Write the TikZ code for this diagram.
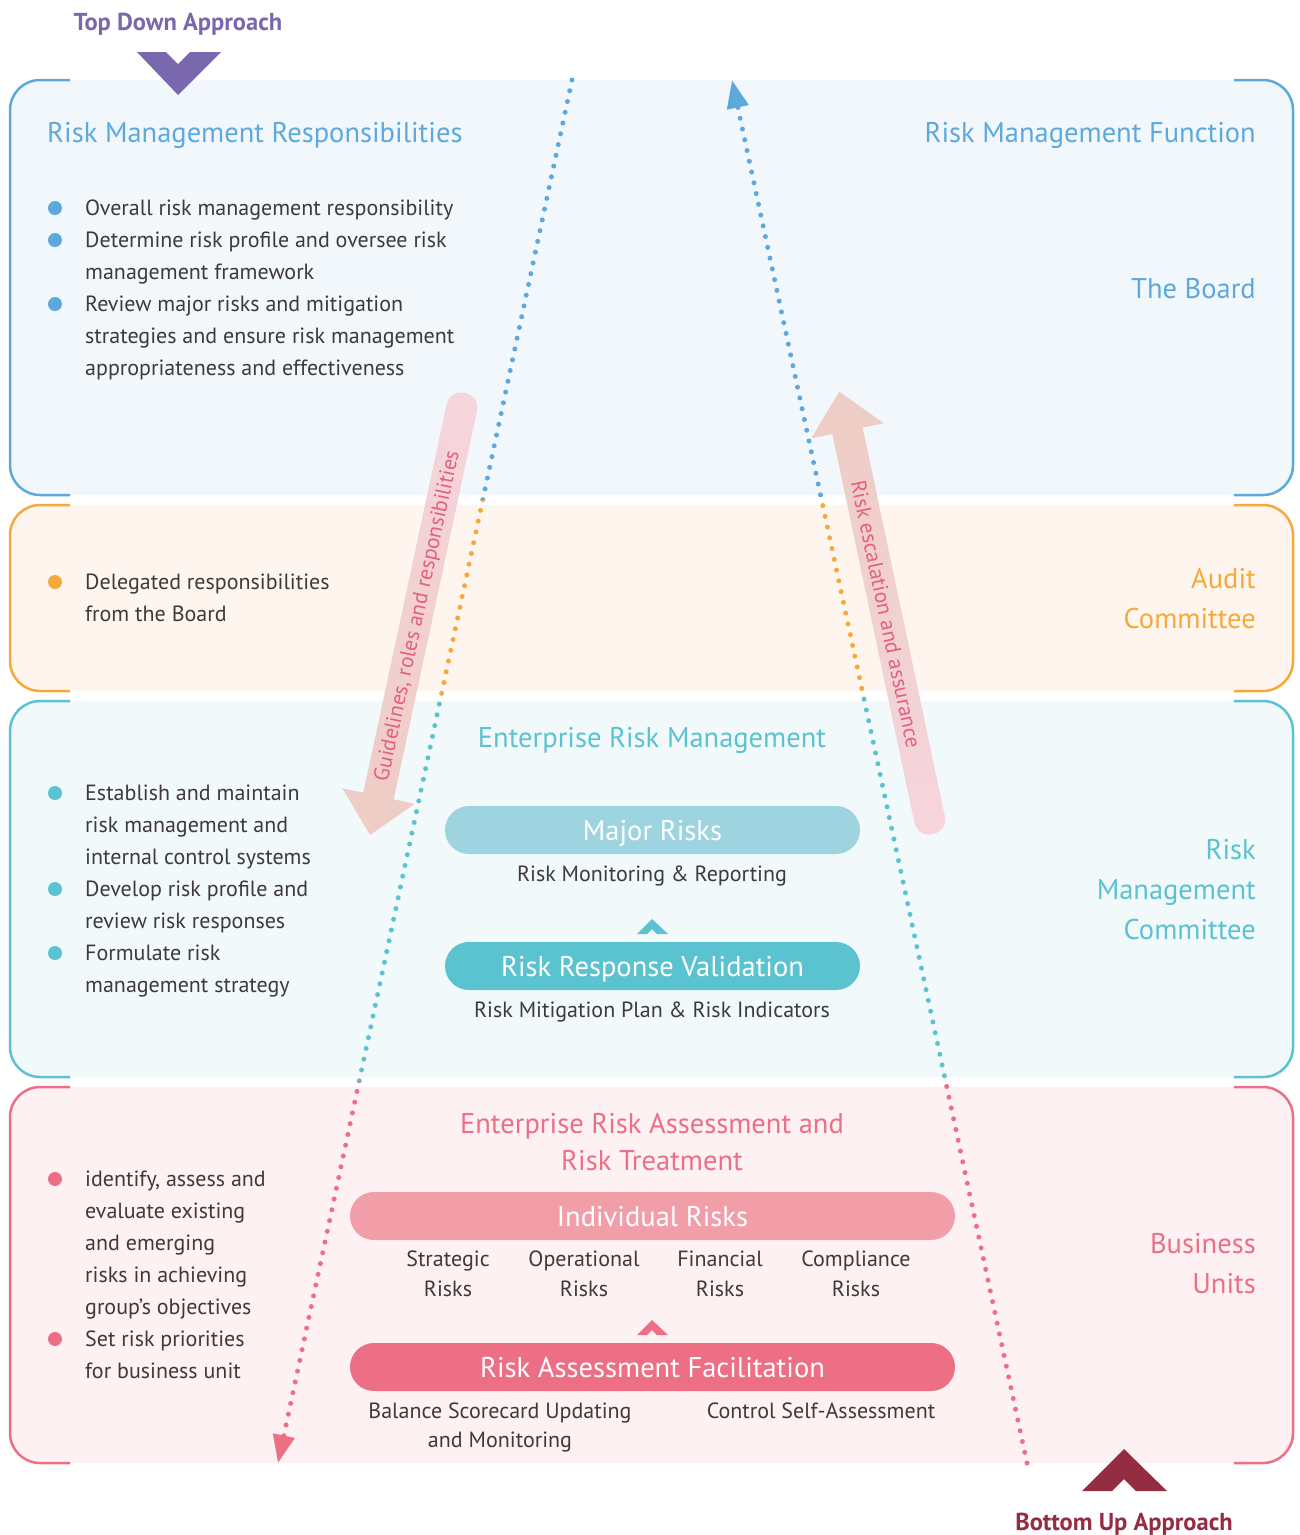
\documentclass[tikz,border=0pt]{standalone}
\usepackage{fontspec}
\setmainfont{PT Sans}
\usetikzlibrary{arrows.meta,shadings}
\definecolor{cblue}{HTML}{5DA9DD}
\definecolor{cpurple}{HTML}{7A68AE}
\definecolor{corange}{HTML}{F6A93B}
\definecolor{cteal}{HTML}{5BC2D0}
\definecolor{cpink}{HTML}{EC6F86}
\definecolor{cdred}{HTML}{952D42}
\definecolor{ctext}{HTML}{3E3A39}
\definecolor{fblue}{HTML}{F2F7FC}
\definecolor{forange}{HTML}{FEF6EE}
\definecolor{fteal}{HTML}{F2F9FB}
\definecolor{fpink}{HTML}{FDF1F3}
\definecolor{pillA}{HTML}{9DD4E0}
\definecolor{pillC}{HTML}{F29EA8}
\definecolor{atext}{HTML}{E4607C}
\definecolor{arpink}{HTML}{F5D4DC}
\definecolor{armid}{HTML}{F6F0F4}
\definecolor{arpeach}{HTML}{EECDC6}
\newcommand\rpanel[4]{%
  \fill[#3, rounded corners=30pt] (10,#1) rectangle (1293,#2);
  \draw[#4, line width=2.5pt, rounded corners=30pt] (70,#1) -| (10,#2) -- (70,#2);
  \draw[#4, line width=2.5pt, rounded corners=30pt] (1234,#1) -| (1293,#2) -- (1234,#2);
}
\begin{document}
\begin{tikzpicture}[x=1pt,y=-1pt,
  body/.style={font=\fontsize{22}{26}\selectfont, text=ctext, anchor=base west, inner sep=0pt},
  cbody/.style={font=\fontsize{22}{26}\selectfont, text=ctext, anchor=base, inner sep=0pt},
  ttl/.style={font=\fontsize{28.5}{33}\selectfont, inner sep=0pt},
  rttl/.style={ttl, anchor=base east},
  pill/.style={rounded corners=24pt, minimum width=415pt, minimum height=48pt, inner sep=0pt, text=white, font=\fontsize{28.5}{33}\selectfont, text height=20pt, text depth=0pt},
  bdot/.style={circle, minimum size=14pt, inner sep=0pt},
  dotline/.style={line width=5pt, dash pattern=on 0pt off 11pt, line cap=round, -{Triangle[length=28pt,width=21pt]}},
  apr/.style={font=\bfseries\fontsize{24.5}{28}\selectfont, inner sep=0pt, anchor=base},
  atxt/.style={font=\fontsize{21.5}{25}\selectfont, text=atext, inner sep=0pt}
]
\useasboundingbox (0,0) rectangle (1300,1535);

% panels
\rpanel{80}{495}{fblue}{cblue}
\rpanel{505}{691}{forange}{corange}
\rpanel{701}{1077}{fteal}{cteal}
\rpanel{1087}{1463}{fpink}{cpink}

% dotted connectors
\coordinate (tdA) at (572,80);
\coordinate (tdB) at (278,1463);
\coordinate (buA) at (1027,1463);
\coordinate (buB) at (732,80);
\begin{scope}
  \clip (0,0) rectangle (1300,500);
  \draw[dotline, cblue] (tdA) -- (tdB);
  \draw[dotline, cblue] (buA) -- (buB);
\end{scope}
\begin{scope}
  \clip (0,500) rectangle (1300,696);
  \draw[dotline, corange] (tdA) -- (tdB);
  \draw[dotline, corange] (buA) -- (buB);
\end{scope}
\begin{scope}
  \clip (0,696) rectangle (1300,1082);
  \draw[dotline, cteal] (tdA) -- (tdB);
  \draw[dotline, cteal] (buA) -- (buB);
\end{scope}
\begin{scope}
  \clip (0,1082) rectangle (1300,1535);
  \draw[dotline, cpink] (tdA) -- (tdB);
  \draw[dotline, cpink] (buA) -- (buB);
\end{scope}

% big arrows
\shade[shading=axis, top color=arpink, middle color=armid, bottom color=arpeach, shading angle=-12]
  (446.5,404.7) -- (363.3,792.7) -- (342.3,788.2) -- (370,835) -- (414.7,803.8) -- (393.7,799.3) -- (476.9,411.3)
  .. controls (481.3,391.1) and (450.9,384.5) .. (446.5,404.7) -- cycle;
\shade[shading=axis, top color=arpeach, middle color=armid, bottom color=arpink, shading angle=12]
  (944.7,815.8) -- (862.7,427.6) -- (883.7,423.2) -- (839.2,391.7) -- (811.3,438.4) -- (832.3,434.0) -- (914.3,822.2)
  .. controls (918.6,842.5) and (949.0,836.1) .. (944.7,815.8) -- cycle;
\node[atxt, rotate=77.8] (glr) at (418,616) {Guidelines, roles and responsibilities};
\node[atxt, rotate=-78.1] (rea) at (886,614) {Risk escalation and assurance};

% approach labels and chevrons
\node[apr, text=cpurple] (tda) at (178,30) {Top Down Approach};
\fill[cpurple] (137,52) -- (166,52) -- (178,64) -- (190,52) -- (221,52) -- (178,95) -- cycle;
\node[apr, text=cdred] (bua) at (1124,1530) {Bottom Up Approach};
\fill[cdred] (1082,1491) -- (1112,1491) -- (1124,1479) -- (1136,1491) -- (1167,1491) -- (1124,1449) -- cycle;

% Board panel
\node[ttl, text=cblue, anchor=base west] (rmr) at (47,142) {Risk Management Responsibilities};
\node[rttl, text=cblue] (rmf) at (1256,142) {Risk Management Function};
\node[rttl, text=cblue] (tb) at (1256,298) {The Board};
\foreach \t [count=\i] in {Overall risk management responsibility, Determine risk profile and oversee risk, management framework, Review major risks and mitigation, strategies and ensure risk management, appropriateness and effectiveness}
  \node[body] (b\i) at (85,{215+32*(\i-1)}) {\t};
\foreach \yy [count=\i] in {208,240,304}
  \node[bdot, fill=cblue] (bd\i) at (55,\yy) {};

% Audit committee panel
\node[body] (a1) at (85,589) {Delegated responsibilities};
\node[body] (a2) at (85,621) {from the Board};
\node[bdot, fill=corange] (ad1) at (55,582) {};
\node[rttl, text=corange] (ac1) at (1256,588) {Audit};
\node[rttl, text=corange] (ac2) at (1256,628) {Committee};

% Risk management committee panel
\node[ttl, text=cteal, anchor=base] (erm) at (652,747) {Enterprise Risk Management};
\foreach \t [count=\i] in {Establish and maintain, risk management and, internal control systems, Develop risk profile and, review risk responses, Formulate risk, management strategy}
  \node[body] (c\i) at (85,{800+32*(\i-1)}) {\t};
\foreach \yy [count=\i] in {793,889,953}
  \node[bdot, fill=cteal] (cd\i) at (55,\yy) {};
\node[pill, fill=pillA] (mr) at (652.5,830) {Major Risks};
\node[cbody] (rmrep) at (652,881) {Risk Monitoring \& Reporting};
\fill[cteal] (637,934) -- (647,934) -- (652,929) -- (657,934) -- (668,934) -- (652,919) -- cycle;
\node[pill, fill=cteal] (rrv) at (652.5,966) {Risk Response Validation};
\node[cbody] (rmp) at (652,1017) {Risk Mitigation Plan \& Risk Indicators};
\node[rttl, text=cteal] (rm1) at (1256,859) {Risk};
\node[rttl, text=cteal] (rm2) at (1256,899) {Management};
\node[rttl, text=cteal] (rm3) at (1256,939) {Committee};

% Business units panel
\node[ttl, text=cpink, anchor=base] (era1) at (652,1133) {Enterprise Risk Assessment and};
\node[ttl, text=cpink, anchor=base] (era2) at (652,1170) {Risk Treatment};
\foreach \t [count=\i] in {{identify, assess and}, evaluate existing, and emerging, risks in achieving, group’s objectives, Set risk priorities, for business unit}
  \node[body] (p\i) at (85,{1186+32*(\i-1)}) {\t};
\foreach \yy [count=\i] in {1179,1339}
  \node[bdot, fill=cpink] (pd\i) at (55,\yy) {};
\node[pill, fill=pillC, minimum width=605pt] (ir) at (652.5,1216) {Individual Risks};
\foreach \t/\xx [count=\i] in {Strategic/448, Operational/584, Financial/720, Compliance/856}{
  \node[cbody] (ra\i) at (\xx,1266) {\t};
  \node[cbody] (rb\i) at (\xx,1296) {Risks};
}
\fill[cpink] (637,1335) -- (647,1335) -- (652,1330) -- (657,1335) -- (668,1335) -- (652,1320) -- cycle;
\node[pill, fill=cpink, minimum width=605pt] (raf) at (652.5,1367) {Risk Assessment Facilitation};
\node[cbody] (bs1) at (500,1418) {Balance Scorecard Updating};
\node[cbody] (bs2) at (500,1447) {and Monitoring};
\node[cbody] (csa) at (821,1418) {Control Self-Assessment};
\node[rttl, text=cpink] (bu1) at (1256,1253) {Business};
\node[rttl, text=cpink] (bu2) at (1256,1293) {Units};
\end{tikzpicture}
\end{document}
